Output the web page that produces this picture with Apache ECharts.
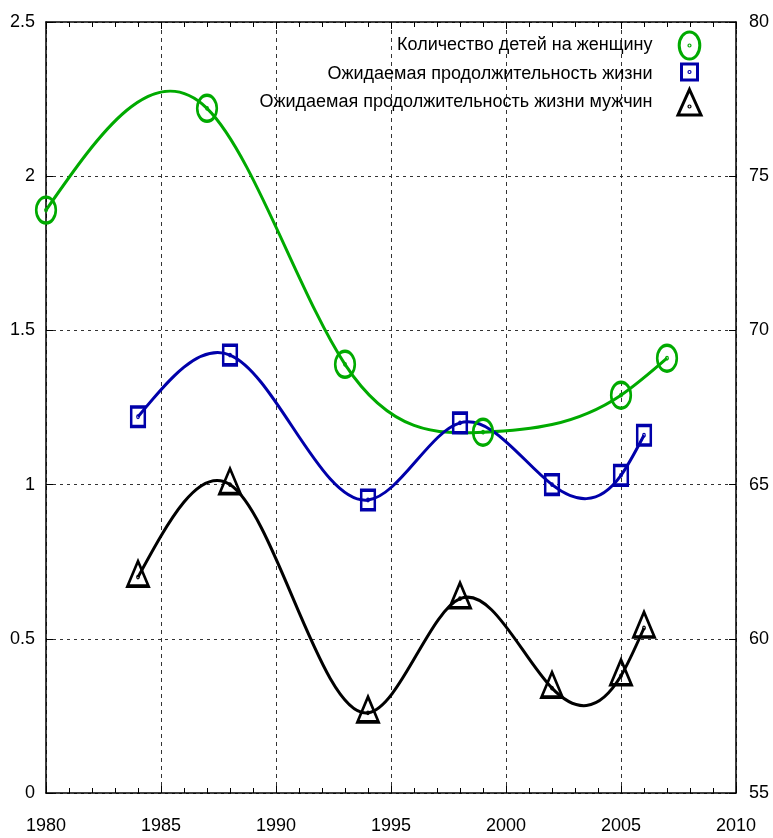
<!DOCTYPE html>
<html><head><meta charset="utf-8">
<script src="https://cdn.jsdelivr.net/npm/echarts@6/dist/echarts.min.js"></script>
<style>html,body{margin:0;padding:0;background:#fff}#c{width:773px;height:838px}</style>
</head><body><div id="c"></div>
<script>
// ---- data ----
const fertYears = [1980, 1987, 1993, 1999, 2005, 2007];
const fertVals  = [1.89, 2.22, 1.39, 1.17, 1.29, 1.41];
const lifeYears = [1984, 1988, 1994, 1998, 2002, 2005, 2006];
const lifeVals  = [67.2, 69.2, 64.5, 67.0, 65.0, 65.3, 66.6];
const maleYears = [1984, 1988, 1994, 1998, 2002, 2005, 2006];
const maleVals  = [62.0, 65.0, 57.6, 61.3, 58.4, 58.8, 60.35];
const seriesNames = ['Количество детей на женщину', 'Ожидаемая продолжительность жизни', 'Ожидаемая продолжительность жизни мужчин'];
const xTicks = [1980, 1985, 1990, 1995, 2000, 2005, 2010];
const leftTicks = [0, 0.5, 1, 1.5, 2, 2.5];
const rightTicks = [55, 60, 65, 70, 75, 80];

// ---- styles ----
const GREEN = '#00aa00', BLUE = '#0000aa', BLACK = '#000000';
const FONT = "'Liberation Sans', Arial, sans-serif";
const FS = 18;
const DOT = 'M0.6,0A0.6,0.6,0,1,1,-0.6,0A0.6,0.6,0,1,1,0.6,0Z';
const circleSym = 'path://M-9.8,-13M9.8,13M0,-13A9.8,13,0,1,1,0,13A9.8,13,0,1,1,0,-13Z' + DOT;
const squareSym = 'path://M-6.8,-9.8L6.8,-9.8L6.8,9.8L-6.8,9.8Z' + DOT;
const triSym    = 'path://M-11,-16M11,16M0,-16L10.5,9L-10.5,9Z' + DOT;
const circleLeg = 'path://M-12,-14M12,14M0,-13.5A10.3,13.5,0,1,1,0,13.5A10.3,13.5,0,1,1,0,-13.5Z' + DOT;
const squareLeg = 'path://M-12,-14M12,14M-8,-10L8,-10L8,6L-8,6Z' + 'M0.6,-2A0.6,0.6,0,1,1,-0.6,-2A0.6,0.6,0,1,1,0.6,-2Z';
const triLeg    = 'path://M-12,-14M12,14M0,-13L11.5,12.5L-11.5,12.5Z' + 'M0.6,4A0.6,0.6,0,1,1,-0.6,4A0.6,0.6,0,1,1,0.6,4Z';

const zip = (xs, ys) => xs.map((x, i) => [x, ys[i]]);

// natural cubic spline through pixel points -> bezier path
function splinePath(p) {
  const n = p.length;
  const h = [], M = new Array(n).fill(0);
  for (let i = 0; i < n - 1; i++) h.push(p[i + 1][0] - p[i][0]);
  if (n > 2) {
    const a = [], b = [], c = [], d = [];
    for (let i = 1; i < n - 1; i++) {
      a.push(h[i - 1]); b.push(2 * (h[i - 1] + h[i])); c.push(h[i]);
      d.push(6 * ((p[i + 1][1] - p[i][1]) / h[i] - (p[i][1] - p[i - 1][1]) / h[i - 1]));
    }
    const m = b.length;
    for (let i = 1; i < m; i++) {
      const w = a[i] / b[i - 1];
      b[i] -= w * c[i - 1]; d[i] -= w * d[i - 1];
    }
    const sol = new Array(m);
    sol[m - 1] = d[m - 1] / b[m - 1];
    for (let i = m - 2; i >= 0; i--) sol[i] = (d[i] - c[i] * sol[i + 1]) / b[i];
    for (let i = 0; i < m; i++) M[i + 1] = sol[i];
  }
  let s = 'M' + p[0][0] + ',' + p[0][1];
  for (let i = 0; i < n - 1; i++) {
    const hi = h[i], sl = (p[i + 1][1] - p[i][1]) / hi;
    const d0 = sl - hi * (2 * M[i] + M[i + 1]) / 6;
    const d1 = sl + hi * (M[i] + 2 * M[i + 1]) / 6;
    s += 'C' + (p[i][0] + hi / 3) + ',' + (p[i][1] + d0 * hi / 3) + ',' +
         (p[i + 1][0] - hi / 3) + ',' + (p[i + 1][1] - d1 * hi / 3) + ',' +
         p[i + 1][0] + ',' + p[i + 1][1];
  }
  return s;
}
function curveSeries(id, years, vals, yIdx, color) {
  return {
    name: id, type: 'custom', xAxisIndex: 0, yAxisIndex: yIdx, data: zip(years, vals), z: 3, silent: true,
    renderItem: function (params, api) {
      if (params.dataIndex !== 0) return null;
      const pts = years.map((x, i) => api.coord([x, vals[i]]));
      return {type: 'path', shape: {pathData: splinePath(pts)},
              style: {fill: 'none', stroke: color, lineWidth: 3}};
    }
  };
}

const chart = echarts.init(document.getElementById('c'), null, {renderer: 'canvas'});

const axisLabelStyle = {fontSize: FS, color: '#000', fontFamily: FONT};
const xAxisBase = {
  type: 'value', min: xTicks[0], max: xTicks[xTicks.length - 1], interval: 5,
  axisLine: {show: true, onZero: false, lineStyle: {color: '#000', width: 1.5}},
  axisTick: {show: true, inside: true, length: 7, lineStyle: {color: '#000', width: 1}},
  minorTick: {show: true, splitNumber: 5, length: 5, lineStyle: {color: '#000', width: 1}},
};
const yAxisBase = {
  type: 'value',
  axisLine: {show: true, onZero: false, lineStyle: {color: '#000', width: 1.5}},
  axisTick: {show: true, inside: true, length: 7, lineStyle: {color: '#000', width: 1}},
};

const option = {
  backgroundColor: '#fff',
  animation: false,
  grid: {left: 46, right: 37, top: 22, bottom: 45, containLabel: false},
  xAxis: [
    Object.assign({}, xAxisBase, {
      position: 'bottom',
      axisLabel: Object.assign({}, axisLabelStyle, {margin: 24, formatter: v => String(v)}),
      splitLine: {show: true, lineStyle: {color: '#333', width: 1, type: [4, 4]}}
    }),
    Object.assign({}, xAxisBase, {
      position: 'top',
      axisLabel: {show: false},
      splitLine: {show: false}
    })
  ],
  yAxis: [
    Object.assign({}, yAxisBase, {
      position: 'left', min: leftTicks[0], max: leftTicks[leftTicks.length - 1], interval: 0.5,
      axisLabel: Object.assign({}, axisLabelStyle, {margin: 11, padding: [7, 0, 0, 0], formatter: v => String(v)}),
      splitLine: {show: true, lineStyle: {color: '#333', width: 1, type: [3, 4]}}
    }),
    Object.assign({}, yAxisBase, {
      position: 'right', min: rightTicks[0], max: rightTicks[rightTicks.length - 1], interval: 5,
      axisLabel: Object.assign({}, axisLabelStyle, {margin: 13, padding: [7, 0, 0, 0], formatter: v => String(v)}),
      splitLine: {show: false}
    })
  ],
  legend: {
    orient: 'vertical', right: 65, top: 25, align: 'right',
    itemWidth: 24, itemHeight: 28, itemGap: -2.5,
    selectedMode: false,
    itemStyle: {borderWidth: 3},
    textStyle: {fontSize: FS, color: '#000', fontFamily: FONT, padding: [0, 20, 0, 0]},
    data: [
      {name: seriesNames[0], icon: circleLeg, itemStyle: {color: 'rgba(0,0,0,0)', borderColor: GREEN, borderWidth: 3, opacity: 1}},
      {name: seriesNames[1], icon: squareLeg, itemStyle: {color: 'rgba(0,0,0,0)', borderColor: BLUE, borderWidth: 3, opacity: 1}},
      {name: seriesNames[2], icon: triLeg, itemStyle: {color: 'rgba(0,0,0,0)', borderColor: BLACK, borderWidth: 3, opacity: 1}}
    ]
  },
  series: [
    curveSeries('fert-curve', fertYears, fertVals, 0, GREEN),
    curveSeries('life-curve', lifeYears, lifeVals, 1, BLUE),
    curveSeries('male-curve', maleYears, maleVals, 1, BLACK),
    {name: seriesNames[0], type: 'scatter', xAxisIndex: 0, yAxisIndex: 0, data: zip(fertYears, fertVals),
     symbol: circleSym, symbolSize: [19.6, 26], itemStyle: {color: 'rgba(0,0,0,0)', borderColor: GREEN, borderWidth: 3, opacity: 1}, z: 4},
    {name: seriesNames[1], type: 'scatter', xAxisIndex: 0, yAxisIndex: 1, data: zip(lifeYears, lifeVals),
     symbol: squareSym, symbolSize: [13.6, 19.6], itemStyle: {color: 'rgba(0,0,0,0)', borderColor: BLUE, borderWidth: 3, opacity: 1}, z: 4},
    {name: seriesNames[2], type: 'scatter', xAxisIndex: 0, yAxisIndex: 1, data: zip(maleYears, maleVals),
     symbol: triSym, symbolSize: [22, 32], itemStyle: {color: 'rgba(0,0,0,0)', borderColor: BLACK, borderWidth: 3, borderJoin: 'miter', opacity: 1}, z: 4}
  ]
};
chart.setOption(option);
</script>
</body></html>
